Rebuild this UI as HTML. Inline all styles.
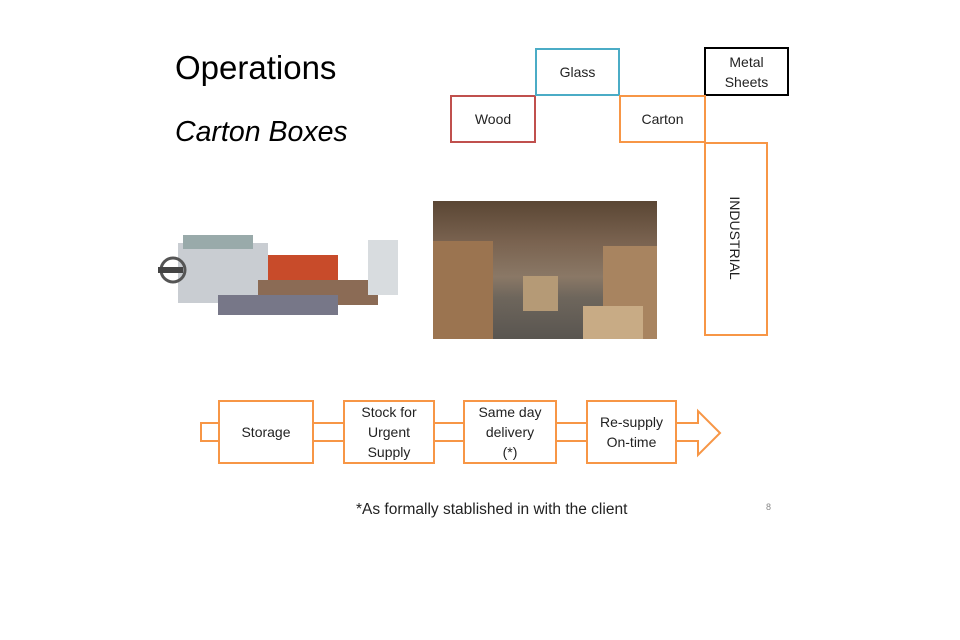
<!DOCTYPE html>
<html><head><style>
body{margin:0;width:960px;height:640px;background:#fff;position:relative;overflow:hidden;font-family:"Liberation Sans",sans-serif}
.a{position:absolute}
.b{position:absolute;box-sizing:border-box;border:2px solid;display:flex;align-items:center;justify-content:center;text-align:center;font-size:14px;color:#222;line-height:20px}
.o{border-color:#f79646;background:#fff}
</style></head><body>
<div class="a" style="left:175px;top:49px;font-size:33px">Operations</div>
<div class="a" style="left:175px;top:116px;font-size:28.5px;font-style:italic">Carton Boxes</div>

<div class="b" style="left:450px;top:95px;width:86px;height:48px;border-color:#c0504d">Wood</div>
<div class="b" style="left:535px;top:48px;width:85px;height:48px;border-color:#4bacc6">Glass</div>
<div class="b" style="left:704px;top:47px;width:85px;height:49px;border-color:#000">Metal<br>Sheets</div>
<div class="b o" style="left:704px;top:142px;width:64px;height:194px"></div>
<div class="a" style="left:685px;top:230px;width:100px;text-align:center;font-size:14px;color:#222;transform:rotate(90deg)">INDUSTRIAL</div>
<div class="b o" style="left:619px;top:95px;width:87px;height:48px;background:transparent">Carton</div>

<!-- machine -->
<svg class="a" style="left:158px;top:225px" width="250" height="105">
<rect x="20" y="18" width="90" height="60" fill="#c9cdd2"/>
<rect x="25" y="10" width="70" height="14" fill="#9aa"/>
<circle cx="15" cy="45" r="12" fill="none" stroke="#555" stroke-width="3"/>
<rect x="110" y="30" width="70" height="30" fill="#c84b2a"/>
<rect x="100" y="55" width="120" height="25" fill="#8b6b55"/>
<rect x="210" y="15" width="30" height="55" fill="#d8dcdf"/>
<rect x="60" y="70" width="120" height="20" fill="#778"/>
<rect x="0" y="42" width="25" height="6" fill="#444"/>
</svg>
<!-- warehouse photo -->
<div class="a" style="left:433px;top:201px;width:224px;height:138px;background:linear-gradient(#5a4634 0%,#7a6350 30%,#8a7866 55%,#6e665c 70%,#595550 100%)">
<div class="a" style="left:0;top:40px;width:60px;height:98px;background:#9b7450"></div>
<div class="a" style="left:170px;top:45px;width:54px;height:93px;background:#a88460"></div>
<div class="a" style="left:90px;top:75px;width:35px;height:35px;background:#b59a76"></div>
<div class="a" style="left:150px;top:105px;width:60px;height:33px;background:#c8ab85"></div>
</div>

<!-- flow -->
<svg class="a" style="left:0;top:0" width="960" height="640">
<g fill="none" stroke="#f79646" stroke-width="2">
<path d="M219 423 H201 V441 H219"/>
<path d="M313 423 H344 M313 441 H344 M434 423 H464 M434 441 H464 M556 423 H587 M556 441 H587"/>
<path d="M676 423 H698 V411 L720 433 L698 455 V441 H676"/>
</g></svg>
<div class="b o" style="left:218px;top:400px;width:96px;height:64px">Storage</div>
<div class="b o" style="left:343px;top:400px;width:92px;height:64px">Stock for<br>Urgent<br>Supply</div>
<div class="b o" style="left:463px;top:400px;width:94px;height:64px">Same day<br>delivery<br>(*)</div>
<div class="b o" style="left:586px;top:400px;width:91px;height:64px">Re-supply<br>On-time</div>

<div class="a" style="left:356px;top:501px;font-size:15.5px;color:#222">*As formally stablished in with the client</div>
<div class="a" style="left:766px;top:502px;font-size:9px;color:#888">8</div>
</body></html>
